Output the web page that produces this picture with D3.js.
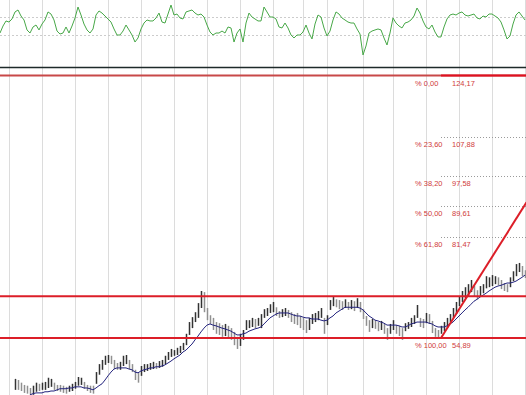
<!DOCTYPE html>
<html>
<head>
<meta charset="utf-8">
<script src="https://cdn.jsdelivr.net/npm/d3@7"></script>
<style>
body { margin: 0; background: #fff; }
svg { display: block; }
</style>
</head>
<body>
<div id="chart"></div>
<script>
// bar index 0..175, price bars start at index 5, moving average at 10
const firstBar = 5;
const firstAvg = 10;

const highs = [
  44.1, 43.8, 43.1, 42.5, 42.3, 41.7, 42.3, 43.1, 42.8, 43.1,
  43.3, 44.4, 44.1, 43.1, 42.5, 42.5, 42.3, 42.0, 42.3, 42.8,
  43.3, 44.6, 44.4, 43.3, 42.5, 42.3, 42.3, 45.9, 48.0, 49.1,
  50.2, 50.4, 50.2, 49.1, 48.3, 48.6, 50.2, 50.4, 49.1, 48.0,
  46.5, 45.9, 47.5, 48.0, 48.0, 48.3, 48.6, 48.3, 48.8, 49.1,
  50.2, 51.2, 52.0, 51.7, 52.3, 52.8, 53.6, 56.0, 59.1, 60.4,
  61.7, 64.1, 67.3, 67.0, 62.8, 60.9, 60.2, 59.1, 58.8, 58.3,
  58.6, 58.1, 57.5, 56.5, 55.2, 56.0, 57.0, 59.6, 59.6, 60.2,
  59.9, 60.2, 61.2, 62.5, 62.8, 63.8, 64.4, 63.0, 62.0, 62.5,
  62.8, 62.3, 61.7, 61.2, 61.5, 60.7, 60.2, 59.6, 60.2, 61.2,
  61.5, 62.0, 62.8, 60.2, 60.9, 64.9, 65.7, 65.1, 64.9, 64.6,
  65.1, 64.4, 64.9, 64.6, 65.4, 64.4, 62.5, 60.7, 59.6, 59.9,
  59.6, 59.1, 59.4, 58.6, 57.5, 58.6, 59.6, 58.3, 58.1, 57.5,
  58.8, 59.1, 60.2, 60.9, 63.6, 60.2, 59.9, 61.5, 61.2, 59.4,
  57.5, 57.0, 58.1, 59.1, 60.2, 61.2, 62.8, 64.4, 65.9, 67.3,
  68.3, 69.1, 70.2, 68.6, 67.5, 68.6, 69.1, 71.2, 70.9, 71.5,
  71.2, 70.9, 70.2, 69.4, 69.1, 70.9, 72.5, 74.4, 74.7, 73.9,
  72.8
];

const lows = [
  41.2, 41.2, 40.9, 40.4, 40.2, 39.9, 39.9, 40.7, 40.9, 41.2,
  41.2, 41.7, 42.0, 41.2, 40.9, 40.7, 40.4, 40.2, 40.7, 40.9,
  41.5, 42.3, 42.5, 41.5, 40.9, 40.4, 40.2, 42.8, 45.2, 46.5,
  47.8, 48.3, 48.0, 46.7, 46.5, 46.5, 47.5, 48.0, 46.7, 45.9,
  43.8, 43.1, 44.9, 45.9, 46.2, 46.5, 46.7, 46.7, 47.0, 47.3,
  48.0, 49.1, 49.9, 50.2, 50.4, 50.9, 51.7, 53.0, 55.7, 57.5,
  59.1, 60.2, 62.8, 61.7, 59.6, 58.6, 57.0, 56.0, 55.7, 55.2,
  55.4, 54.9, 54.4, 53.0, 52.0, 52.8, 54.4, 57.0, 57.5, 57.8,
  57.5, 58.1, 57.5, 60.2, 60.7, 61.5, 61.7, 60.7, 60.2, 60.4,
  60.7, 60.2, 59.1, 58.6, 58.3, 57.5, 57.0, 56.2, 57.0, 58.6,
  59.1, 59.6, 60.2, 56.0, 58.3, 62.3, 63.3, 63.0, 62.5, 62.3,
  62.8, 62.3, 62.5, 62.0, 62.8, 61.7, 59.9, 58.1, 56.5, 57.5,
  57.3, 56.7, 57.0, 56.0, 54.4, 56.0, 57.0, 56.0, 55.4, 54.4,
  56.7, 57.3, 57.8, 58.6, 60.2, 57.8, 57.5, 58.8, 58.6, 56.2,
  55.2, 54.9, 56.0, 56.7, 57.5, 59.1, 60.2, 61.2, 63.3, 64.4,
  65.4, 65.9, 67.0, 65.9, 65.1, 65.9, 66.7, 68.0, 68.3, 68.6,
  69.1, 68.8, 67.8, 67.3, 67.0, 68.3, 69.9, 71.2, 72.3, 71.2,
  70.7
];

const avgLine = [
  39.9, 40.2, 40.4, 40.4, 40.4,
  40.7, 40.7, 40.9, 40.9, 41.2, 41.5, 41.5, 41.5, 41.7, 41.7,
  42.0, 42.0, 42.0, 41.7, 41.7, 41.5, 41.2, 41.7, 42.3, 42.8,
  43.8, 44.9, 45.9, 46.7, 47.0, 47.0, 47.0, 47.0, 46.7, 46.5,
  45.9, 45.7, 46.2, 46.5, 46.7, 47.0, 47.0, 47.3, 47.3, 47.5,
  47.8, 48.3, 48.8, 49.4, 49.9, 50.4, 51.2, 51.7, 52.5, 53.3,
  54.4, 55.4, 56.5, 57.5, 58.3, 58.6, 58.3, 58.1, 57.8, 57.5,
  57.3, 57.0, 56.7, 56.2, 55.7, 55.7, 56.0, 56.2, 56.7, 57.0,
  57.3, 57.5, 57.8, 58.6, 59.4, 60.2, 60.7, 61.2, 61.5, 61.5,
  61.5, 61.5, 61.2, 60.9, 60.7, 60.7, 60.4, 60.2, 60.2, 59.9,
  59.9, 59.9, 59.6, 59.4, 59.6, 60.2, 60.7, 61.5, 62.0, 62.5,
  63.0, 63.0, 63.0, 63.0, 63.0, 62.8, 62.3, 61.5, 60.7, 60.2,
  59.6, 59.4, 59.1, 58.8, 58.3, 58.3, 58.3, 58.3, 58.1, 57.8,
  57.8, 58.1, 58.6, 58.8, 59.1, 59.1, 59.1, 59.1, 58.8, 58.6,
  58.1, 57.8, 57.8, 57.8, 58.1, 58.6, 59.1, 59.9, 60.7, 61.5,
  62.3, 63.0, 63.8, 64.6, 65.1, 65.7, 66.2, 66.7, 67.3, 67.8,
  68.3, 68.6, 68.8, 69.1, 69.4, 69.4, 69.6, 69.9, 70.4, 70.9,
  71.5
];

const osc = [
  -78, 0, 56, 44, 78, 156, 178, 111, 67, -44,
  -78, -11, 11, -44, 22, 67, 156, 133, 67, -56,
  -89, -78, -11, -78, 0, 89, 211, 122, 22, -44,
  -78, -33, 122, 167, 144, 111, 78, 44, -33, -100,
  -100, -56, 11, -44, -100, -178, -133, -33, 33, 67,
  56, 56, 89, 144, 44, 33, 133, 233, 122, 133,
  89, 78, 156, 167, 178, 144, 122, 133, 100, 11,
  -67, -100, -78, -78, -56, -78, -11, -22, -178, -78,
  -33, -178, 33, 144, 100, 78, 56, 56, 211, 156,
  100, 100, 78, -11, -22, 33, -22, -100, -133, -100,
  -100, -67, 11, -78, -144, 22, 122, 100, -22, -111,
  -56, 67, 156, 133, 89, 67, 44, 33, 33, -33,
  -89, -322, -222, -78, -56, -44, -33, -44, -133, -211,
  -78, 89, 33, 0, -22, 33, 44, 67, 111, 200,
  144, 56, -11, -33, 11, -67, -122, -122, -11, 78,
  122, 133, 122, 144, 156, 122, 111, 122, 133, 89,
  78, 111, 100, 133, 133, 111, 89, 44, -44, -144,
  -111, 22, 122, 156, 111, 67
];
const oscLevels = [100, -100];

// month boundaries (bar index)
const monthTicks = [3, 14, 25, 36, 47, 58, 69, 80, 91, 101, 109, 121, 131, 142, 153, 164, 175];

// fibonacci retracement from the low at bar 147 up to 124.17
const fibPct = [0, 23.6, 38.2, 50, 61.8, 100];
const fibPrice = [124.17, 107.88, 97.58, 89.61, 81.47, 54.89];
const fibStart = 147;
const channel = [65.9, 54.89];
const trend = [[147, 54.89], [175.5, 90.7]];

const W = 526, H = 395;
const svg = d3.select("#chart").append("svg")
    .attr("width", W)
    .attr("height", H);

const x = d3.scaleLinear().domain([0, 175]).range([0, 525]);
const yOsc = d3.scaleLinear().domain([-100, 100]).range([35, 17]);
const y = d3.scaleLinear().domain([fibPrice[5], fibPrice[0]]).range([338, 75.5]);

// vertical grid over both panels
svg.append("g")
    .selectAll("line")
    .data(monthTicks)
    .join("line")
    .attr("x1", d => x(d) + 0.5)
    .attr("x2", d => x(d) + 0.5)
    .attr("y1", 0)
    .attr("y2", H)
    .attr("stroke", "#dcdcdc")
    .attr("stroke-width", 1);

// oscillator panel
svg.append("g")
    .selectAll("line")
    .data(oscLevels)
    .join("line")
    .attr("x1", 0)
    .attr("x2", W)
    .attr("y1", d => Math.round(yOsc(d)) + 0.5)
    .attr("y2", d => Math.round(yOsc(d)) + 0.5)
    .attr("stroke", "#cccccc")
    .attr("stroke-dasharray", "2,2");

svg.append("path")
    .datum(osc)
    .attr("fill", "none")
    .attr("stroke", "#48a848")
    .attr("stroke-width", 1)
    .attr("d", d3.line().x((d, i) => x(i)).y(d => yOsc(d)));

svg.append("line")
    .attr("x1", 0).attr("x2", W)
    .attr("y1", 67.5).attr("y2", 67.5)
    .attr("stroke", "#1e2a2a")
    .attr("stroke-width", 1.5);

// price panel
const bars = highs.map((h, k) => ({ i: k + firstBar, high: h, low: lows[k] }));

svg.append("g")
    .selectAll("line")
    .data(bars)
    .join("line")
    .attr("x1", d => x(d.i) + 0.5)
    .attr("x2", d => x(d.i) + 0.5)
    .attr("y1", d => y(d.high))
    .attr("y2", d => y(d.low))
    .attr("stroke", (d, k) => k > 0 && d.high + d.low < bars[k - 1].high + bars[k - 1].low ? "#909090" : "#333333")
    .attr("stroke-width", 1.5);

svg.append("path")
    .datum(avgLine)
    .attr("fill", "none")
    .attr("stroke", "#24247e")
    .attr("stroke-width", 1)
    .attr("d", d3.line().x((d, i) => x(i + firstAvg)).y(d => y(d)));

// fibonacci dotted levels
svg.append("g")
    .selectAll("line")
    .data(fibPrice.slice(1, 5))
    .join("line")
    .attr("x1", x(fibStart))
    .attr("x2", W)
    .attr("y1", d => Math.round(y(d)) + 0.5)
    .attr("y2", d => Math.round(y(d)) + 0.5)
    .attr("stroke", "#9a9a9a")
    .attr("stroke-dasharray", "1,2");

// resistance / channel lines
svg.append("line")
    .attr("x1", 0).attr("x2", W)
    .attr("y1", y(fibPrice[0])).attr("y2", y(fibPrice[0]))
    .attr("stroke", "#c84848")
    .attr("stroke-width", 2);

svg.append("line")
    .attr("x1", x(fibStart)).attr("x2", W)
    .attr("y1", y(fibPrice[0])).attr("y2", y(fibPrice[0]))
    .attr("stroke", "#e01020")
    .attr("stroke-width", 2);

svg.append("g")
    .selectAll("line")
    .data(channel)
    .join("line")
    .attr("x1", 0)
    .attr("x2", W)
    .attr("y1", d => y(d))
    .attr("y2", d => y(d))
    .attr("stroke", "#dc1e28")
    .attr("stroke-width", 2);

svg.append("path")
    .datum(trend)
    .attr("fill", "none")
    .attr("stroke", "#dc1e28")
    .attr("stroke-width", 2)
    .attr("d", d3.line().x(d => x(d[0])).y(d => y(d[1])));

// labels
const fmt = d3.formatLocale({ decimal: ",", thousands: ".", grouping: [3], currency: ["", ""] }).format(".2f");

const lab = svg.append("g")
    .style("font-family", "'Liberation Sans', Arial, sans-serif")
    .style("font-size", "7.5px")
    .attr("fill", "#d03c3c");

lab.selectAll("text.pct")
    .data(fibPct)
    .join("text")
    .attr("class", "pct")
    .attr("x", 415)
    .attr("y", (d, k) => y(fibPrice[k]) + 10)
    .text(d => "% " + fmt(d));

lab.selectAll("text.val")
    .data(fibPrice)
    .join("text")
    .attr("class", "val")
    .attr("x", 452)
    .attr("y", d => y(d) + 10)
    .text(d => fmt(d));
</script>
</body>
</html>
